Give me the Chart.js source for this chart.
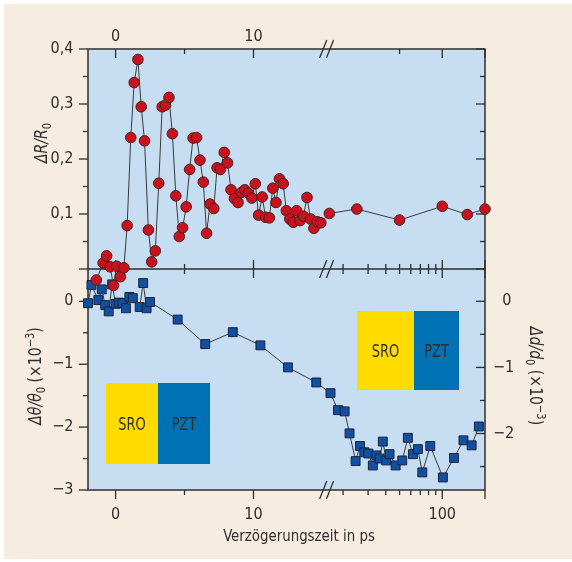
<!DOCTYPE html>
<html>
<head>
<meta charset="utf-8">
<script src="https://cdn.jsdelivr.net/npm/chart.js@4.4.1/dist/chart.umd.min.js"></script>
<style>
  html, body { margin: 0; padding: 0; background: #fff; }
  #wrap { width: 572px; height: 562px; }
</style>
</head>
<body>
<div id="wrap"><canvas id="chart" width="572" height="562"></canvas></div>
<script>
const FONT = "'Liberation Sans Narrow', 'DejaVu Sans Condensed', 'Noto Sans', sans-serif";
const FONT_SIZE = 16;
const INK = '#2e2e2e';

// Reflektivität: Verzögerungszeit (ps) und ΔR/R0
const reflDelay = [-1.4, -0.9, -0.65, -0.4, -0.15, 0.08, 0.35, 0.6, 0.84, 1.1,
  1.35, 1.62, 1.86, 2.1, 2.38, 2.62, 2.88, 3.13, 3.38, 3.62,
  3.87, 4.12, 4.37, 4.62, 4.86, 5.12, 5.37, 5.62, 5.87, 6.12,
  6.36, 6.6, 6.85, 7.12, 7.36, 7.6, 7.88, 8.12, 8.37, 8.62,
  8.88, 9.12, 9.37, 9.62, 9.88, 10.13, 10.37, 10.63, 10.88, 11.15,
  11.4, 11.63, 11.88, 12.15, 12.38, 12.63, 12.88, 13.13, 13.38, 13.62,
  13.88, 14.13, 14.38, 14.62, 14.88, 16, 25, 50, 100, 150, 200];
const reflValue = [-0.02, 0.011, 0.024, 0.004, -0.03, 0.005, -0.014, 0.002, 0.079, 0.239,
  0.339, 0.381, 0.295, 0.233, 0.071, 0.013, 0.033, 0.156, 0.295, 0.298,
  0.312, 0.246, 0.133, 0.059, 0.075, 0.113, 0.181, 0.238, 0.239, 0.198,
  0.158, 0.065, 0.118, 0.11, 0.184, 0.181, 0.212, 0.193, 0.144, 0.128,
  0.121, 0.139, 0.144, 0.138, 0.129, 0.155, 0.098, 0.131, 0.094, 0.093,
  0.147, 0.121, 0.164, 0.155, 0.106, 0.091, 0.085, 0.106, 0.088, 0.096,
  0.13, 0.091, 0.074, 0.086, 0.084, 0.101, 0.109, 0.089, 0.114, 0.099, 0.109];

// Bragg-Winkel: Verzögerungszeit (ps) und Δθ/θ0 (×10^-3)
const braggDelay = [-2, -1.75, -1.25, -1, -0.75, -0.5, -0.25, 0, 0.25, 0.5,
  0.75, 1, 1.25, 1.75, 2, 2.25, 2.5, 4.5, 6.5, 8.5,
  10.5, 12.5, 14.55, 16.3, 18.4, 20.5, 22.2, 24.5, 26.3, 28.2,
  30.1, 32.4, 34.3, 36.2, 38.1, 40.3, 42.5, 46.9, 52.2, 57.2,
  62.1, 67.3, 72.3, 82.3, 101, 121, 141, 161, 181];
const braggValue = [-0.03, 0.26, 0.02, 0.19, -0.06, -0.16, 0.27, -0.04, -0.02, -0.03,
  -0.11, 0.07, 0.05, -0.09, 0.29, -0.11, -0.01, -0.29, -0.68, -0.49,
  -0.70, -1.05, -1.29, -1.46, -1.73, -1.75, -2.10, -2.54, -2.30, -2.40,
  -2.42, -2.61, -2.45, -2.50, -2.23, -2.53, -2.43, -2.61, -2.53, -2.17,
  -2.43, -2.35, -2.72, -2.30, -2.80, -2.49, -2.21, -2.29, -1.99];

// Achsen
const X_MIN = -2, X_BREAK = 15.3, X_MAX = 200, BREAK_POS = 0.601;
const xTicksBottom = [0, 5, 10, 20, 30, 40, 50, 60, 70, 80, 90, 100, 200];
const xTicksTop = [0, 5, 10, 50, 100, 200];
const xLabels = [0, 10, 100];
const xMajor = [0, 10, 100, 200];

const reflTicks = [0, 0.05, 0.1, 0.15, 0.2, 0.25, 0.3, 0.35, 0.4];
const reflLabels = [0.1, 0.2, 0.3, 0.4];
const braggTicks = [-3, -2.5, -2, -1.5, -1, -0.5, 0];
const braggLabels = [-3, -2, -1, 0];
const strainTicks = [-2.5, -2, -1.5, -1, -0.5, 0];
const strainLabels = [-2, -1, 0];

// linear bis X_BREAK, danach logarithmisch
class BrokenAxis extends Chart.Scale {
  static id = 'broken';
  static defaults = {};
  determineDataLimits() {
    this.min = X_MIN;
    this.max = X_MAX;
  }
  buildTicks() { return []; }
  getLabelForValue(v) { return String(v); }
  toDecimal(v) {
    if (v <= X_BREAK) return (v - X_MIN) / (X_BREAK - X_MIN) * BREAK_POS;
    return BREAK_POS + (Math.log10(v) - Math.log10(X_BREAK)) /
      (Math.log10(X_MAX) - Math.log10(X_BREAK)) * (1 - BREAK_POS);
  }
  getPixelForValue(v) { return this.getPixelForDecimal(this.toDecimal(v)); }
  getValueForPixel(px) {
    const d = this.getDecimalForPixel(px);
    if (d <= BREAK_POS) return X_MIN + d / BREAK_POS * (X_BREAK - X_MIN);
    const l = Math.log10(X_BREAK) + (d - BREAK_POS) / (1 - BREAK_POS) * (Math.log10(X_MAX) - Math.log10(X_BREAK));
    return Math.pow(10, l);
  }
}
Chart.register(BrokenAxis);

const setTicks = list => scale => { scale.ticks = list.map(v => ({ value: v })); };
const minus = v => (v < 0 ? '\u2212' + Math.abs(v) : String(v));
const tickFont = { family: FONT, size: FONT_SIZE };

function fontStr(style, size) { return style + ' ' + size + 'px ' + FONT; }

// Text entlang der Schreibrichtung leicht gestaucht (schmale Schrift)
function drawRich(ctx, parts, x, y, angle, squeeze) {
  ctx.save();
  ctx.translate(x, y);
  ctx.rotate(angle);
  ctx.scale(squeeze, 1);
  ctx.textBaseline = 'alphabetic';
  ctx.textAlign = 'left';
  ctx.fillStyle = INK;
  let total = 0;
  const widths = parts.map(p => {
    ctx.font = fontStr(p[1], p[2]);
    const w = ctx.measureText(p[0]).width;
    total += w;
    return w;
  });
  let cx = -total / 2;
  parts.forEach((p, i) => {
    ctx.font = fontStr(p[1], p[2]);
    ctx.fillText(p[0], cx, p[3]);
    cx += widths[i];
  });
  ctx.restore();
}

function line(ctx, x1, y1, x2, y2) {
  ctx.beginPath();
  ctx.moveTo(x1, y1);
  ctx.lineTo(x2, y2);
  ctx.stroke();
}

function layerBox(ctx, x, y, w1, w2, h) {
  ctx.fillStyle = '#ffdc00';
  ctx.fillRect(x, y, w1, h);
  ctx.fillStyle = '#0071b3';
  ctx.fillRect(x + w1, y, w2, h);
  drawRich(ctx, [['SRO', 'normal', 17, 0]], x + w1 / 2, y + h / 2 + 6, 0, 0.85);
  drawRich(ctx, [['PZT', 'normal', 17, 0]], x + w1 + w2 / 2, y + h / 2 + 6, 0, 0.85);
}

const framePlugin = {
  id: 'frame',
  beforeDraw(chart) {
    const { ctx, chartArea: a } = chart;
    ctx.save();
    ctx.fillStyle = '#ffffff';
    ctx.fillRect(0, 0, chart.width, chart.height);
    ctx.fillStyle = '#f6ecdf';
    ctx.fillRect(4, 4, chart.width - 4, chart.height - 7);
    ctx.fillStyle = '#c7def2';
    ctx.fillRect(a.left, a.top, a.right - a.left, a.bottom - a.top);
    ctx.restore();
  },
  beforeDatasetsDraw(chart) {
    const { ctx, chartArea: a, scales } = chart;
    const x = scales.x, yR = scales.yR, yT = scales.yT, yD = scales.yD;
    const mid = yR.bottom;
    ctx.save();
    layerBox(ctx, 106, 383, 52, 52, 81);
    layerBox(ctx, 357, 311, 57, 45, 79);

    ctx.strokeStyle = INK;
    ctx.lineWidth = 1.5;
    ctx.strokeRect(a.left, a.top, a.right - a.left, a.bottom - a.top);
    line(ctx, a.left, mid, a.right, mid);

    ctx.lineWidth = 1.3;
    const len = major => (major ? 9 : 5);
    // x ticks
    xTicksBottom.forEach(v => {
      const px = x.getPixelForValue(v), l = len(xMajor.includes(v));
      line(ctx, px, a.bottom, px, a.bottom + l);
      line(ctx, px, mid - l, px, mid + l);
    });
    xTicksTop.forEach(v => {
      const px = x.getPixelForValue(v), l = len(xMajor.includes(v));
      line(ctx, px, a.top, px, a.top + l);
    });
    // y ticks
    reflTicks.forEach(v => {
      const py = yR.getPixelForValue(v), l = len(reflLabels.includes(v) || v === 0);
      line(ctx, a.left - l, py, a.left, py);
      line(ctx, a.right - l, py, a.right, py);
    });
    braggTicks.forEach(v => {
      const py = yT.getPixelForValue(v), l = len(braggLabels.includes(v));
      line(ctx, a.left - l, py, a.left, py);
    });
    strainTicks.forEach(v => {
      const py = yD.getPixelForValue(v), l = len(strainLabels.includes(v));
      line(ctx, a.right - l, py, a.right, py);
    });
    // Achsenbruch
    const bx = x.getPixelForValue(X_BREAK);
    [a.top, mid, a.bottom].forEach(by => {
      [-3.4, 3.4].forEach(off => line(ctx, bx + off - 3.6, by + 9, bx + off + 3.6, by - 9));
    });
    ctx.restore();
  },
  afterDraw(chart) {
    const { ctx } = chart;
    const s = 0.92;
    drawRich(ctx, [['\u0394R/R', 'italic', 17, 0], ['0', 'normal', 12, 4]], 46.5, 143, -Math.PI / 2, s);
    drawRich(ctx, [['\u0394\u03b8/\u03b8', 'italic', 17, 0], ['0', 'normal', 12, 4],
      [' (\u00d710', 'normal', 17, 0], ['\u22123', 'normal', 12, -7], [')', 'normal', 17, 0]], 41, 376, -Math.PI / 2, s);
    drawRich(ctx, [['\u0394d/d', 'italic', 17, 0], ['0', 'normal', 12, 4],
      [' (\u00d710', 'normal', 17, 0], ['\u22123', 'normal', 12, -7], [')', 'normal', 17, 0]], 530, 376, Math.PI / 2, s);
    drawRich(ctx, [['Verz\u00f6gerungszeit in ps', 'normal', 16.5, 0]], 299, 541, 0, 0.9);
  }
};

const hiddenGrid = { display: false, drawTicks: false };
const noBorder = { display: false };

new Chart(document.getElementById('chart'), {
  type: 'line',
  data: {
    datasets: [
      {
        label: '\u0394R/R0',
        data: reflDelay.map((t, i) => ({ x: t, y: reflValue[i] })),
        yAxisID: 'yR',
        borderColor: '#3a3a3a',
        borderWidth: 1,
        pointRadius: 5.3,
        pointBorderWidth: 1,
        pointBackgroundColor: '#c8121d',
        pointBorderColor: '#4a2020',
        clip: false
      },
      {
        label: '\u0394\u03b8/\u03b80',
        data: braggDelay.map((t, i) => ({ x: t, y: braggValue[i] })),
        yAxisID: 'yT',
        borderColor: '#3a3a3a',
        borderWidth: 1,
        pointStyle: 'rect',
        pointRadius: 6.3,
        pointBorderWidth: 1,
        pointBackgroundColor: '#124f9e',
        pointBorderColor: '#1a2440',
        clip: false
      }
    ]
  },
  options: {
    responsive: false,
    animation: false,
    devicePixelRatio: 1,
    events: [],
    layout: { padding: 0 },
    plugins: { legend: { display: false }, tooltip: { enabled: false } },
    scales: {
      x: {
        type: 'broken',
        position: 'bottom',
        afterBuildTicks: setTicks(xTicksBottom),
        afterFit: s => { s.height = 72; },
        grid: hiddenGrid,
        border: noBorder,
        ticks: {
          autoSkip: false, maxRotation: 0, padding: 15, color: INK, font: tickFont,
          callback: v => (xLabels.includes(v) ? String(v) : '')
        }
      },
      x2: {
        type: 'broken',
        position: 'top',
        afterBuildTicks: setTicks(xTicksTop),
        afterFit: s => { s.height = 49; },
        grid: hiddenGrid,
        border: noBorder,
        ticks: {
          autoSkip: false, maxRotation: 0, padding: 3, color: INK, font: tickFont,
          callback: v => (v === 0 || v === 10 ? String(v) : '')
        }
      },
      yT: {
        type: 'linear',
        position: 'left',
        stack: 'links',
        stackWeight: 221,
        min: -3,
        max: 0.514,
        bounds: 'data',
        afterBuildTicks: setTicks(braggTicks),
        afterFit: s => { s.width = 88; },
        grid: hiddenGrid,
        border: noBorder,
        ticks: {
          autoSkip: false, padding: 14.5, color: INK, font: tickFont,
          callback: v => (braggLabels.includes(v) ? minus(v) : '')
        }
      },
      yR: {
        type: 'linear',
        position: 'left',
        stack: 'links',
        stackWeight: 220,
        min: 0,
        max: 0.4,
        bounds: 'data',
        afterBuildTicks: setTicks(reflTicks),
        afterFit: s => { s.width = 88; },
        grid: hiddenGrid,
        border: noBorder,
        ticks: {
          autoSkip: false, padding: 14.5, color: INK, font: tickFont,
          callback: v => (reflLabels.includes(v) ? String(v).replace('.', ',') : '')
        }
      },
      yRm: {
        type: 'linear',
        position: 'right',
        stack: 'rechts',
        stackWeight: 220,
        min: 0,
        max: 0.4,
        afterFit: s => { s.width = 87; },
        grid: hiddenGrid,
        border: noBorder,
        ticks: { display: false }
      },
      yD: {
        type: 'linear',
        position: 'right',
        stack: 'rechts',
        stackWeight: 221,
        min: -2.855,
        max: 0.489,
        bounds: 'data',
        afterBuildTicks: setTicks(strainTicks),
        afterFit: s => { s.width = 87; },
        grid: hiddenGrid,
        border: noBorder,
        ticks: {
          autoSkip: false, padding: 8, color: INK, font: tickFont,
          callback: v => (strainLabels.includes(v) ? (v === 0 ? '\u2007' : '') + minus(v) : '')
        }
      }
    }
  },
  plugins: [framePlugin]
});
</script>
</body>
</html>
